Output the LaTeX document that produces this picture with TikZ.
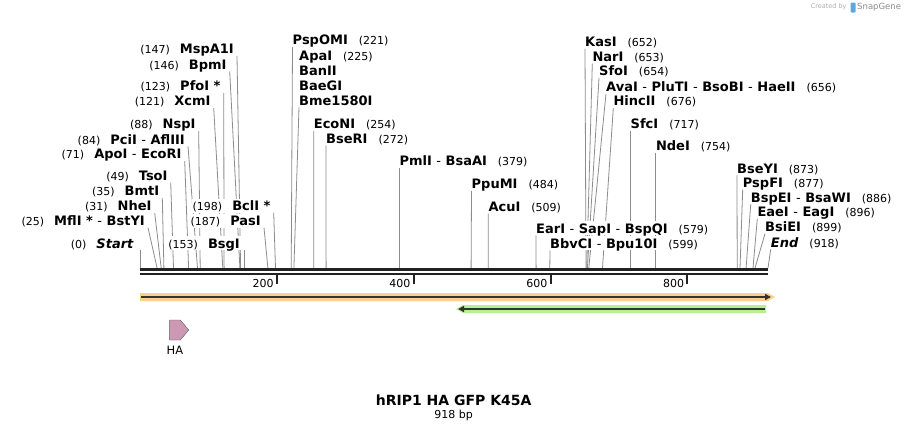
\documentclass[tikz,border=0pt]{standalone}
\usepackage{fontspec}
\setmainfont{DejaVu Sans}
\usetikzlibrary{arrows.meta,shapes.symbols}
\definecolor{orfband}{RGB}{251,208,136}
\definecolor{gfpband}{RGB}{184,240,140}
\definecolor{haf}{RGB}{205,152,180}
\definecolor{hadraw}{RGB}{90,90,90}
\definecolor{ldgray}{RGB}{140,140,140}
\definecolor{barc}{RGB}{34,34,34}
\definecolor{darkline}{RGB}{51,51,51}
\definecolor{wmgray}{RGB}{175,175,175}
\definecolor{wmgrayb}{RGB}{140,140,140}
\definecolor{wmblue}{RGB}{90,170,225}
\newcommand{\nbp}[1]{{\fontsize{11}{11}\selectfont\mdseries #1}}
\newcommand{\dsh}{\ {\mdseries -}\ }
\pgfdeclarelayer{bg}
\pgfdeclarelayer{lines}
\pgfsetlayers{bg,lines,main}
\begin{document}
\begin{tikzpicture}[x=1pt,y=-1pt,
  enzl/.style={anchor=south east, fill=white, inner xsep=1pt, inner ysep=2pt, text height=10pt, text depth=0pt, font=\fontsize{13}{13}\selectfont\bfseries},
  enzr/.style={enzl, anchor=south west, inner xsep=0pt},
  leader/.style={draw=ldgray, line width=0.8pt},
  seq/.style={draw=barc, line width=2.6pt},
  tick/.style={draw=barc, line width=2pt},
  tlbl/.style={anchor=base east, inner sep=0pt, font=\fontsize{11}{11}\selectfont},
  feat/.style={draw=darkline, line width=1.8pt, -{Triangle[length=6pt,width=6pt]}}]
\begin{pgfonlayer}{bg}
\fill[white] (0,0) rectangle (909,432);
\end{pgfonlayer}
\useasboundingbox (0,0) rectangle (909,432);

\coordinate (c0) at (140,268);
\coordinate (c25) at (157.1,268);
\coordinate (c31) at (161.2,268);
\coordinate (c35) at (163.9,268);
\coordinate (c49) at (173.5,268);
\coordinate (c71) at (188.6,268);
\coordinate (c84) at (197.5,268);
\coordinate (c88) at (200.2,268);
\coordinate (c121) at (222.8,268);
\coordinate (c123) at (224.1,268);
\coordinate (c146) at (239.9,268);
\coordinate (c147) at (240.6,268);
\coordinate (c153) at (244.7,268);
\coordinate (c187) at (267.9,268);
\coordinate (c198) at (275.5,268);
\coordinate (c221) at (291.2,268);
\coordinate (c225) at (293.9,268);
\coordinate (c254) at (313.8,268);
\coordinate (c272) at (326.1,268);
\coordinate (c379) at (399.3,268);
\coordinate (c484) at (471.1,268);
\coordinate (c509) at (488.2,268);
\coordinate (c579) at (536.1,268);
\coordinate (c599) at (549.8,268);
\coordinate (c652) at (586.0,268);
\coordinate (c653) at (586.7,268);
\coordinate (c654) at (587.4,268);
\coordinate (c656) at (588.8,268);
\coordinate (c676) at (602.5,268);
\coordinate (c717) at (630.5,268);
\coordinate (c754) at (655.8,268);
\coordinate (c873) at (737.2,268);
\coordinate (c877) at (740.0,268);
\coordinate (c886) at (746.1,268);
\coordinate (c896) at (753.0,268);
\coordinate (c899) at (755.0,268);
\coordinate (c918) at (768.0,268);

\node (mspa1i) [enzl] at (235,56) {\nbp{(147)}\hspace{10pt}MspA1I};
\node (bpmi) [enzl] at (227.7,71.3) {\nbp{(146)}\hspace{10pt}BpmI};
\node (pfoi) [enzl] at (221.7,93) {\nbp{(123)}\hspace{10pt}PfoI *};
\node (xcmi) [enzl] at (211.7,108) {\nbp{(121)}\hspace{10pt}XcmI};
\node (nspi) [enzl] at (196.7,131) {\nbp{(88)}\hspace{10pt}NspI};
\node (pcii) [enzl] at (186,146.3) {\nbp{(84)}\hspace{10pt}PciI\dsh AflIII};
\node (apoi) [enzl] at (182.7,161) {\nbp{(71)}\hspace{10pt}ApoI\dsh EcoRI};
\node (tsoi) [enzl] at (168.7,182.7) {\nbp{(49)}\hspace{10pt}TsoI};
\node (bmti) [enzl] at (160.3,198) {\nbp{(35)}\hspace{10pt}BmtI};
\node (nhei) [enzl] at (152.7,213) {\nbp{(31)}\hspace{10pt}NheI};
\node (mfli) [enzl] at (146,227.7) {\nbp{(25)}\hspace{10pt}MflI *\dsh BstYI};
\node (start) [enzl] at (135,250.3) {\nbp{(0)}\hspace{10pt}\textit{Start}};
\node (bsgi) [enzl] at (241,250.3) {\nbp{(153)}\hspace{10pt}BsgI};
\node (pasi) [enzl] at (262,227.7) {\nbp{(187)}\hspace{10pt}PasI};
\node (bcli) [enzl] at (271.7,212.7) {\nbp{(198)}\hspace{10pt}BclI *};

\node (pspomi) [enzr] at (292.5,47) {PspOMI\hspace{11pt}\nbp{(221)}};
\node (apai) [enzr] at (299,62.7) {ApaI\hspace{11pt}\nbp{(225)}};
\node (banii) [enzr] at (299,77.7) {BanII};
\node (baegi) [enzr] at (299,92.7) {BaeGI};
\node (bme) [enzr] at (299,107.3) {Bme1580I};
\node (econi) [enzr] at (313.7,131) {EcoNI\hspace{11pt}\nbp{(254)}};
\node (bseri) [enzr] at (326,145.3) {BseRI\hspace{11pt}\nbp{(272)}};
\node (pmli) [enzr] at (399.3,168) {PmlI\dsh BsaAI\hspace{11pt}\nbp{(379)}};
\node (ppumi) [enzr] at (471.5,191) {PpuMI\hspace{11pt}\nbp{(484)}};
\node (acui) [enzr] at (488.3,213.7) {AcuI\hspace{11pt}\nbp{(509)}};
\node (eari) [enzr] at (536,235.3) {EarI\dsh SapI\dsh BspQI\hspace{11pt}\nbp{(579)}};
\node (bbvci) [enzr] at (550,250.3) {BbvCI\dsh Bpu10I\hspace{11pt}\nbp{(599)}};

\node (kasi) [enzr] at (585,48.7) {KasI\hspace{11pt}\nbp{(652)}};
\node (nari) [enzr] at (592.3,63.7) {NarI\hspace{11pt}\nbp{(653)}};
\node (sfoi) [enzr] at (599,78) {SfoI\hspace{11pt}\nbp{(654)}};
\node (avai) [enzr] at (606,93.7) {AvaI\dsh PluTI\dsh BsoBI\dsh HaeII\hspace{11pt}\nbp{(656)}};
\node (hincii) [enzr] at (613.3,108) {HincII\hspace{11pt}\nbp{(676)}};
\node (sfci) [enzr] at (630.5,131) {SfcI\hspace{11pt}\nbp{(717)}};
\node (ndei) [enzr] at (655.8,152.7) {NdeI\hspace{11pt}\nbp{(754)}};
\node (bseyi) [enzr] at (737,175.3) {BseYI\hspace{11pt}\nbp{(873)}};
\node (pspfi) [enzr] at (742.7,189.3) {PspFI\hspace{11pt}\nbp{(877)}};
\node (bspei) [enzr] at (750.7,204.3) {BspEI\dsh BsaWI\hspace{11pt}\nbp{(886)}};
\node (eaei) [enzr] at (757.3,218.7) {EaeI\dsh EagI\hspace{11pt}\nbp{(896)}};
\node (bsiei) [enzr] at (765,233.7) {BsiEI\hspace{11pt}\nbp{(899)}};
\node (fin) [enzr] at (770.7,249.3) {\textit{End}\hspace{11pt}\nbp{(918)}};

\begin{pgfonlayer}{lines}
\draw[leader] ([xshift=2pt]mspa1i.south east) -- (c147);
\draw[leader] ([xshift=2pt]bpmi.south east) -- (c146);
\draw[leader] ([xshift=2pt]pfoi.south east) -- (c123);
\draw[leader] ([xshift=2pt]xcmi.south east) -- (c121);
\draw[leader] ([xshift=2pt]nspi.south east) -- (c88);
\draw[leader] ([xshift=2pt]pcii.south east) -- (c84);
\draw[leader] ([xshift=2pt]apoi.south east) -- (c71);
\draw[leader] ([xshift=2pt]tsoi.south east) -- (c49);
\draw[leader] ([xshift=2pt]bmti.south east) -- (c35);
\draw[leader] ([xshift=2pt]nhei.south east) -- (c31);
\draw[leader] ([xshift=2pt]mfli.south east) -- (c25);
\draw[leader] (start.south east -| c0) -- (c0);
\draw[leader] (bsgi.south east -| c153) -- (c153);
\draw[leader] ([xshift=2pt]pasi.south east) -- (c187);
\draw[leader] ([xshift=2pt]bcli.south east) -- (c198);
\draw[leader] (pspomi.south west) -- (c221);
\draw[leader] (bme.south west) -- (c225);
\draw[leader] (econi.south west) -- (c254);
\draw[leader] (bseri.south west) -- (c272);
\draw[leader] (pmli.south west) -- (c379);
\draw[leader] (ppumi.south west) -- (c484);
\draw[leader] (acui.south west) -- (c509);
\draw[leader] (eari.south west) -- (c579);
\draw[leader] (bbvci.south west) -- (c599);
\draw[leader] (kasi.south west) -- (c652);
\draw[leader] (nari.south west) -- (c653);
\draw[leader] (sfoi.south west) -- (c654);
\draw[leader] (avai.south west) -- (c656);
\draw[leader] (hincii.south west) -- (c676);
\draw[leader] (sfci.south west) -- (c717);
\draw[leader] (ndei.south west) -- (c754);
\draw[leader] (bseyi.south west) -- (c873);
\draw[leader] (pspfi.south west) -- (c877);
\draw[leader] (bspei.south west) -- (c886);
\draw[leader] (eaei.south west) -- (c896);
\draw[leader] (bsiei.south west) -- (c899);
\draw[leader] (fin.south west) -- (c918);
\end{pgfonlayer}

\draw[seq] (140,269.7) -- (768,269.7);
\draw[seq] (140,274) -- (768,274);
\draw[tick] (276.8,275) -- (276.8,284);
\draw[tick] (413.6,275) -- (413.6,284);
\draw[tick] (550.5,275) -- (550.5,284);
\draw[tick] (687.3,275) -- (687.3,284);
\node (t200) [tlbl] at (273.8,287) {200};
\node (t400) [tlbl] at (410.6,287) {400};
\node (t600) [tlbl] at (547.5,287) {600};
\node (t800) [tlbl] at (684.3,287) {800};

\fill[orfband] (140,293) -- (768,293) -- (775,297) -- (768,301) -- (140,301) -- cycle;
\draw[feat] (141,297) -- (771,297);
\fill[gfpband] (463,305) -- (766,305) -- (766,313) -- (463,313) -- (456,309) -- cycle;
\draw[feat] (765,309) -- (458,309);

\node (ha) [signal, signal to=east, signal pointer angle=100, draw=hadraw, fill=haf, minimum width=19pt, minimum height=20pt, inner sep=0pt] at (175,330) {};
\node (halbl) [below of=ha, node distance=20pt, font=\fontsize{11.5}{11.5}\selectfont] {HA};

\node (title) [font=\fontsize{14}{14}\selectfont\bfseries] at (453.7,400.7) {hRIP1 HA GFP K45A};
\node (len) [below of=title, node distance=15pt, font=\fontsize{11}{11}\selectfont] {918 bp};

\node (made) [anchor=base east, inner sep=0pt, text=wmgray, font=\fontsize{6.5}{6.5}\selectfont] at (846.7,8.8) {Created by};
\fill[wmblue, rounded corners=1pt] (850.5,2.5) rectangle (855.5,12.5);
\node (snap) [anchor=base west, inner sep=0pt, text=wmgrayb, font=\fontsize{8.5}{8.5}\selectfont] at (857,9.5) {SnapGene};
\end{tikzpicture}
\end{document}
